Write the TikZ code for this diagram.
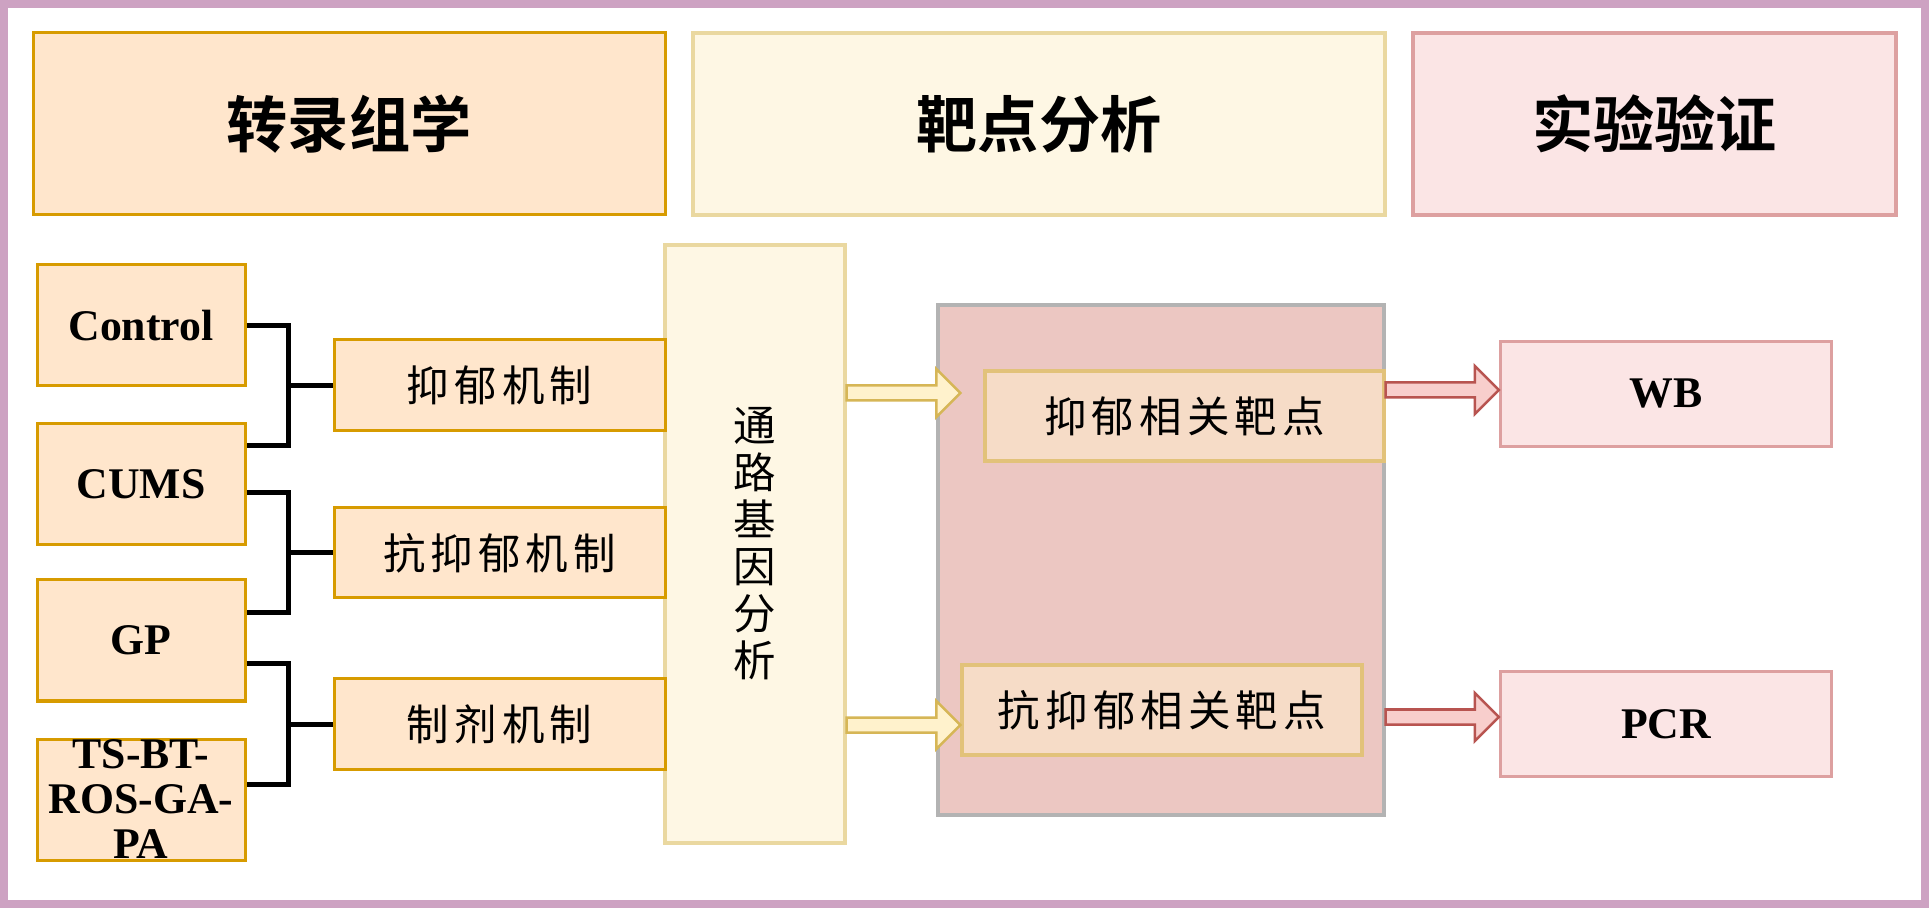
\documentclass[tikz,border=0pt]{standalone}
\usepackage{fontspec}
\setmainfont{Liberation Serif}
\newfontfamily\hdfont{Noto Sans CJK SC Bold}
\newfontfamily\songfont{Noto Sans CJK SC}[LetterSpace=12]
\usetikzlibrary{calc}
\def\px{0.4pt}
\def\fatarrow[#1](#2)(#3){\draw[#1] ($(#2)+(0,-7.5)$) -- ($(#3)+(-24,-7.5)$) -- ($(#3)+(-24,-24)$) -- (#3) -- ($(#3)+(-24,24)$) -- ($(#3)+(-24,7.5)$) -- ($(#2)+(0,7.5)$) -- cycle;}

\definecolor{framec}{RGB}{205,162,194}
\definecolor{ofill}{RGB}{255,230,204}
\definecolor{oline}{RGB}{215,155,0}
\definecolor{cfill}{RGB}{254,247,228}
\definecolor{cline}{RGB}{234,216,160}
\definecolor{pfill}{RGB}{251,229,229}
\definecolor{pline}{RGB}{221,160,160}
\definecolor{bigfill}{RGB}{236,199,194}
\definecolor{bigline}{RGB}{179,179,179}
\definecolor{tfill}{RGB}{246,220,199}
\definecolor{tline}{RGB}{226,194,122}
\definecolor{yafill}{RGB}{255,242,204}
\definecolor{yaline}{RGB}{214,182,86}
\definecolor{rafill}{RGB}{248,206,204}
\definecolor{raline}{RGB}{184,84,80}

\begin{document}
\begin{tikzpicture}[x=0.4pt,y=-0.4pt,
  obox/.style={draw=oline, fill=ofill, line width=1.2pt, inner sep=0pt},
  cbox/.style={draw=cline, fill=cfill, line width=1.3pt, inner sep=0pt},
  pbox/.style={draw=pline, fill=pfill, line width=1.3pt, inner sep=0pt},
  tbox/.style={draw=tline, fill=tfill, line width=1.3pt, inner sep=0pt},
  head/.style={font=\hdfont\fontsize{24.5}{29}\selectfont},
  cjk/.style={font=\songfont\fontsize{17}{18.8}\selectfont},
  lat/.style={font=\bfseries\fontsize{17.5}{18}\selectfont},
  link/.style={line width=2pt, black},
  yarrow/.style={draw=yaline, fill=yafill, line width=1pt},
  rarrow/.style={draw=raline, fill=rafill, line width=1pt}]

	\useasboundingbox (0,0) rectangle (1929,912);
	\fill[white] (0,0) rectangle (1929,912);
	\draw[framec, line width=3.3pt] (4,4) rectangle (1925,904);

	% headers
	\node[obox, head, minimum width=632*\px, minimum height=182*\px] (h1) at (349,124) {转录组学};
	\node[cbox, head, minimum width=692*\px, minimum height=182*\px] (h2) at (1039,124) {靶点分析};
	\node[pbox, head, minimum width=483*\px, minimum height=182*\px] (h3) at (1654.5,124) {实验验证};

	% groups
	\node[obox, lat, minimum width=208*\px, minimum height=121*\px] (l1) at (141,325.5) {Control};
	\node[obox, lat, minimum width=208*\px, minimum height=121*\px] (l2) at (141,484.5) {CUMS};
	\node[obox, lat, minimum width=208*\px, minimum height=121*\px] (l3) at (141,640.5) {GP};
	\node[obox, lat, minimum width=208*\px, minimum height=121*\px, align=center] (l4) at (141,799.5) {TS-BT-\\ROS-GA-\\PA};

	% pathway column
	\node[cbox, cjk, minimum width=180*\px, minimum height=598*\px, align=center] (g) at (755,544) {通\\路\\基\\因\\分\\析};

	% mechanisms
	\node[obox, cjk, minimum width=331*\px, minimum height=91*\px] (m1) at (499.5,385.5) {抑郁机制};
	\node[obox, cjk, minimum width=331*\px, minimum height=90*\px] (m2) at (499.5,553) {抗抑郁机制};
	\node[obox, cjk, minimum width=331*\px, minimum height=90*\px] (m3) at (499.5,724) {制剂机制};

	\draw[link] (l1.east |- {$(m1.west)+(0,-60)$}) -| ($(m1.west)+(-44,60)$) -- (l2.east |- {$(m1.west)+(0,60)$});
	\draw[link] ($(m1.west)+(-44,0)$) -- (m1.west);
	\draw[link] (l2.east |- {$(m2.west)+(0,-60)$}) -| ($(m2.west)+(-44,60)$) -- (l3.east |- {$(m2.west)+(0,60)$});
	\draw[link] ($(m2.west)+(-44,0)$) -- (m2.west);
	\draw[link] (l3.east |- {$(m3.west)+(0,-60)$}) -| ($(m3.west)+(-44,60)$) -- (l4.east |- {$(m3.west)+(0,60)$});
	\draw[link] ($(m3.west)+(-44,0)$) -- (m3.west);

	% targets
	\node[draw=bigline, fill=bigfill, line width=1.3pt, inner sep=0pt, minimum width=446*\px, minimum height=510*\px] (p) at (1161,560) {};
	\node[tbox, cjk, minimum width=399*\px, minimum height=90*\px] (t1) at (1184.5,416) {抑郁相关靶点};
	\node[tbox, cjk, minimum width=400*\px, minimum height=90*\px] (t2) at (1162,710) {抗抑郁相关靶点};

	\coordinate (y1s) at (g.east |- 0,393);
	\coordinate (y1e) at (t2.west |- 0,393);
	\coordinate (y2s) at (g.east |- 0,725);
	\coordinate (y2e) at (t2.west |- 0,725);
	\fatarrow[yarrow](y1s)(y1e)
	\fatarrow[yarrow](y2s)(y2e)

	% validation
	\node[pbox, lat, minimum width=331*\px, minimum height=105*\px] (wb) at (1666,394) {WB};
	\node[pbox, lat, minimum width=331*\px, minimum height=105*\px] (pcr) at (1666,724) {PCR};

	\coordinate (r1s) at (p.east |- 0,390);
	\coordinate (r1e) at (wb.west |- 0,390);
	\coordinate (r2s) at (p.east |- 0,717);
	\coordinate (r2e) at (pcr.west |- 0,717);
	\fatarrow[rarrow](r1s)(r1e)
	\fatarrow[rarrow](r2s)(r2e)
\end{tikzpicture}
\end{document}
